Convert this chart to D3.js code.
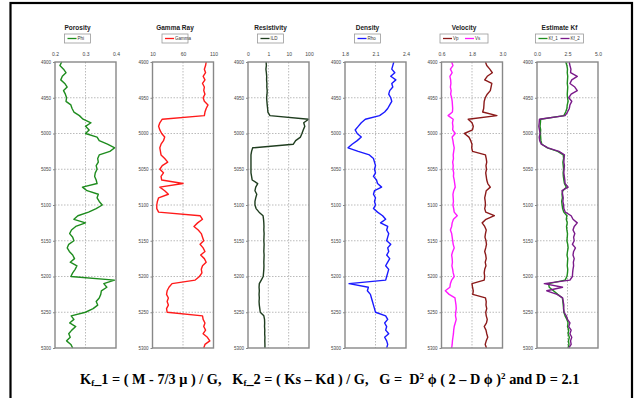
<!DOCTYPE html>
<html>
<head>
<meta charset="utf-8">
<script src="https://cdn.jsdelivr.net/npm/d3@7/dist/d3.min.js"></script>
<style>
  body { margin: 0; background: #fff; }
  svg { display: block; font-family: "Liberation Sans", Arial, sans-serif; }
</style>
</head>
<body>
<svg width="636" height="398"></svg>
<script>
// depth samples (ft), every 5 ft
const depth = [
  4900, 4905, 4910, 4915, 4920, 4925, 4930, 4935, 4940, 4945,
  4950, 4955, 4960, 4965, 4970, 4975, 4980, 4985, 4990, 4995,
  5000, 5005, 5010, 5015, 5020, 5025, 5030, 5035, 5040, 5045,
  5050, 5055, 5060, 5065, 5070, 5075, 5080, 5085, 5090, 5095,
  5100, 5105, 5110, 5115, 5120, 5125, 5130, 5135, 5140, 5145,
  5150, 5155, 5160, 5165, 5170, 5175, 5180, 5185, 5190, 5195,
  5200, 5205, 5210, 5215, 5220, 5225, 5230, 5235, 5240, 5245,
  5250, 5255, 5260, 5265, 5270, 5275, 5280, 5285, 5290, 5295,
  5300
];
const depthTicks = [4900, 4950, 5000, 5050, 5100, 5150, 5200, 5250, 5300];

const porosity = [
  0.222, 0.216, 0.228, 0.236, 0.224, 0.219, 0.232, 0.240, 0.228, 0.234,
  0.238, 0.236, 0.252, 0.256, 0.262, 0.280, 0.292, 0.318, 0.300, 0.312,
  0.300, 0.338, 0.345, 0.372, 0.396, 0.380, 0.345, 0.340, 0.342, 0.335,
  0.338, 0.332, 0.330, 0.335, 0.338, 0.290, 0.305, 0.342, 0.338, 0.345,
  0.355, 0.335, 0.310, 0.275, 0.262, 0.300, 0.268, 0.254, 0.248, 0.258,
  0.262, 0.245, 0.240, 0.247, 0.258, 0.264, 0.250, 0.272, 0.266, 0.258,
  0.252, 0.395, 0.360, 0.370, 0.352, 0.350, 0.345, 0.335, 0.340, 0.325,
  0.300, 0.253, 0.262, 0.248, 0.268, 0.255, 0.245, 0.250, 0.238, 0.252,
  0.258
];
const gamma = [
  98, 97, 95, 97, 93, 96, 92, 95, 94, 96,
  93, 95, 101, 98, 96, 95, 26, 22, 20, 22,
  25, 30, 28, 24, 22, 23, 24, 30, 35, 26,
  22, 28, 24, 25, 60, 22, 30, 36, 20, 18,
  17, 17, 20, 88, 92, 84, 78, 85, 90, 92,
  94, 88, 93, 96, 89, 95, 98, 92, 90, 91,
  87, 80, 42, 37, 34, 33, 36, 34, 36, 33,
  34, 92, 93, 96, 94, 97, 93, 100, 104, 96,
  94
];
const resistivity = [
  0.78, 0.80, 0.76, 0.80, 0.83, 0.82, 0.85, 0.84, 0.88, 0.86,
  0.82, 0.85, 0.88, 0.92, 0.95, 1.2, 95, 55, 62, 52,
  45, 38, 22, 17, 0.17, 0.15, 0.14, 0.14, 0.14, 0.14,
  0.14, 0.14, 0.15, 0.16, 0.30, 0.24, 0.22, 0.27, 0.24, 0.22,
  0.22, 0.25, 0.35, 0.55, 0.58, 0.60, 0.61, 0.60, 0.62, 0.61,
  0.60, 0.62, 0.61, 0.60, 0.62, 0.61, 0.60, 0.61, 0.60, 0.58,
  0.56, 0.45, 0.36, 0.35, 0.36, 0.35, 0.36, 0.35, 0.36, 0.38,
  0.40, 0.60, 0.65, 0.66, 0.65, 0.67, 0.66, 0.68, 0.67, 0.68,
  0.68
];
const density = [
  2.28, 2.27, 2.26, 2.29, 2.25, 2.30, 2.26, 2.27, 2.24, 2.23,
  2.25, 2.26, 2.24, 2.22, 2.19, 2.14, 2.00, 1.96, 1.93, 1.90,
  1.92, 1.96, 1.92, 1.87, 1.83, 1.93, 2.04, 2.08, 2.09, 2.10,
  2.09, 2.10, 2.08, 2.11, 2.12, 2.16, 2.09, 2.08, 2.10, 2.09,
  2.10, 2.08, 2.12, 2.17, 2.20, 2.15, 2.22, 2.21, 2.23, 2.22,
  2.21, 2.25, 2.22, 2.23, 2.21, 2.24, 2.22, 2.20, 2.23, 2.22,
  2.21, 2.20, 1.84, 2.03, 2.02, 2.05, 2.06, 2.07, 2.08, 2.09,
  2.10, 2.20, 2.22, 2.19, 2.21, 2.20, 2.23, 2.19, 2.21, 2.22,
  2.21
];
const vp = [
  2.33, 2.38, 2.50, 2.60, 2.40, 2.30, 2.58, 2.55, 2.52, 2.40,
  2.32, 2.28, 2.27, 2.26, 2.22, 2.78, 1.65, 1.80, 1.85, 1.82,
  1.50, 1.68, 1.75, 1.80, 1.79, 1.82, 2.33, 2.36, 2.38, 2.35,
  2.37, 2.34, 2.36, 2.38, 2.42, 2.52, 2.36, 2.33, 2.30, 2.32,
  2.33, 2.30, 2.34, 2.68, 2.35, 2.20, 2.30, 2.36, 2.33, 2.31,
  2.35, 2.37, 2.34, 2.30, 2.34, 2.36, 2.32, 2.35, 2.30, 2.28,
  2.30, 2.28, 1.80, 1.82, 1.85, 1.83, 2.33, 2.36, 2.35, 2.38,
  2.34, 2.36, 2.40, 2.37, 2.28, 2.35, 2.38, 2.42, 2.36, 2.32,
  2.37
];
const vs = [
  1.00, 1.05, 0.95, 1.02, 0.93, 0.96, 0.97, 0.95, 0.98, 0.96,
  1.00, 1.02, 1.03, 1.04, 1.03, 0.86, 1.06, 1.03, 1.05, 1.04,
  1.14, 1.02, 1.05, 1.07, 1.10, 1.08, 1.06, 1.07, 1.04, 1.06,
  1.05, 1.08, 1.07, 1.10, 1.12, 1.14, 1.08, 1.05, 1.06, 1.07,
  1.05, 1.08, 1.10, 1.22, 1.07, 1.02, 1.00, 0.95, 1.00, 1.02,
  1.04, 1.06, 1.10, 1.04, 1.00, 1.02, 1.03, 1.01, 1.04, 1.06,
  1.10, 1.00, 0.95, 0.93, 0.75, 0.90, 1.13, 1.15, 1.17, 1.18,
  1.16, 1.15, 1.18, 1.14, 1.10, 1.08, 1.07, 1.05, 1.03, 1.02,
  1.00
];
const kf1 = [
  2.36, 2.45, 2.50, 2.48, 2.52, 2.50, 2.48, 2.52, 2.50, 2.48,
  2.50, 2.55, 2.48, 2.45, 2.35, 2.20, 0.30, 0.28, 0.25, 0.30,
  0.28, 0.30, 0.32, 0.40, 0.85, 1.70, 2.15, 2.18, 2.12, 2.15,
  2.18, 2.14, 2.16, 2.20, 2.25, 2.40, 2.12, 2.05, 2.08, 2.02,
  2.06, 2.10, 2.20, 2.45, 2.40, 2.48, 2.42, 2.45, 2.50, 2.48,
  2.45, 2.52, 2.55, 2.50, 2.46, 2.52, 2.50, 2.48, 2.52, 2.50,
  2.45, 2.30, 0.95, 1.00, 1.35, 1.70, 2.08, 2.12, 2.15, 2.18,
  2.20, 2.30, 2.45, 2.55, 2.50, 2.60, 2.55, 2.65, 2.58, 2.62,
  2.55
];
const kf2 = [
  2.64, 2.70, 2.78, 2.75, 3.30, 2.85, 2.70, 3.10, 3.30, 2.80,
  2.60, 2.85, 2.70, 2.65, 2.50, 2.30, 0.20, 0.18, 0.15, 0.20,
  0.25, 0.18, 0.22, 0.35, 0.90, 1.80, 2.25, 2.22, 2.20, 2.25,
  2.22, 2.20, 2.24, 2.28, 2.30, 2.55, 2.05, 2.10, 2.15, 2.12,
  2.18, 2.20, 2.32, 2.80, 2.95, 3.30, 3.05, 2.95, 3.10, 3.00,
  3.05, 2.90, 3.15, 3.00, 2.95, 3.05, 2.98, 3.00, 2.95, 2.92,
  2.90, 2.70, 0.60, 2.10, 0.80, 1.65, 2.10, 2.15, 2.20, 2.18,
  2.22, 2.40, 2.50, 2.70, 2.60, 2.80, 2.70, 2.85, 2.75, 2.80,
  2.60
];

const titles = ['Porosity', 'Gamma Ray', 'Resistivity', 'Density', 'Velocity', 'Estimate Kf'];
const xTicks = [[0.2, 0.3, 0.4], [10, 60, 110], [0.1, 1, 10, 100], [1.8, 2.1, 2.4], [0.6, 1.8, 3.0], [0, 2.5, 5]];
const xTickLabels = [['0.2', '0.3', '0.4'], ['10', '60', '110'], ['0', '1', '10', '100'],
  ['1.8', '2.1', '2.4'], ['0.6', '1.8', '3.0'], ['0.0', '2.5', '5.0']];

const panels = [
  { series: [{ name: 'Phi', values: porosity, color: '#1e8c1e' }] },
  { series: [{ name: 'Gamma', values: gamma, color: '#ff1a1a' }] },
  { series: [{ name: 'ILD', values: resistivity, color: '#1f3d1f' }], log: true },
  { series: [{ name: 'Rho', values: density, color: '#1a1aff' }] },
  { series: [{ name: 'Vp', values: vp, color: '#8b1a1a' }, { name: 'Vs', values: vs, color: '#ff1aff' }] },
  { series: [{ name: 'Kf_1', values: kf1, color: '#1e8c1e' }, { name: 'Kf_2', values: kf2, color: '#7a1a8a' }] }
];

const svg = d3.select('svg');
const plotLefts = [55, 152.5, 248, 345, 441.5, 537];
const plotW = 61;
const plotTop = 62, plotBottom = 348;

// outer frame
svg.append('rect')
  .attr('x', 10.5).attr('y', 3).attr('width', 621.5).attr('height', 400)
  .attr('fill', 'none').attr('stroke', '#000').attr('stroke-width', 2.2);

const yScale = d3.scaleLinear().domain([4900, 5300]).range([plotTop, plotBottom]);

panels.forEach((p, i) => {
  const x0 = plotLefts[i];
  const ticks = xTicks[i];
  const xScale = (p.log ? d3.scaleLog() : d3.scaleLinear())
    .domain([ticks[0], ticks[ticks.length - 1]])
    .range([x0, x0 + plotW]);
  const g = svg.append('g');
  const cx = x0 + plotW / 2 - 8;

  // title
  g.append('text')
    .attr('x', cx).attr('y', 30)
    .attr('text-anchor', 'middle')
    .attr('font-size', '6.5px').attr('font-weight', 'bold')
    .attr('fill', '#222')
    .text(titles[i]);

  // legend
  const itemW = 22;
  const legW = p.series.length * itemW + 4;
  const lg = g.append('g').attr('transform', `translate(${cx - legW / 2}, 34)`);
  lg.append('rect')
    .attr('width', legW).attr('height', 9)
    .attr('fill', '#fff').attr('stroke', '#999').attr('stroke-width', 0.8);
  p.series.forEach((s, k) => {
    const lx = 3 + k * itemW;
    lg.append('line')
      .attr('x1', lx).attr('x2', lx + 9).attr('y1', 4.5).attr('y2', 4.5)
      .attr('stroke', s.color).attr('stroke-width', 1.3);
    lg.append('text')
      .attr('x', lx + 10).attr('y', 6.3)
      .attr('font-size', '4.5px').attr('fill', '#333')
      .text(s.name);
  });

  // grid
  g.append('g')
    .selectAll('line')
    .data(depthTicks.slice(1, -1))
    .enter()
    .append('line')
    .attr('x1', x0).attr('x2', x0 + plotW)
    .attr('y1', d => yScale(d)).attr('y2', d => yScale(d))
    .attr('stroke', '#aaa').attr('stroke-width', 0.8).attr('stroke-dasharray', '1.5,1.5');
  g.append('g')
    .selectAll('line')
    .data(ticks.slice(1, -1))
    .enter()
    .append('line')
    .attr('x1', d => xScale(d)).attr('x2', d => xScale(d))
    .attr('y1', plotTop).attr('y2', plotBottom)
    .attr('stroke', '#aaa').attr('stroke-width', 0.8).attr('stroke-dasharray', '1.5,1.5');

  // axes
  const xAxis = g.append('g')
    .attr('transform', `translate(0, ${plotTop})`)
    .call(d3.axisTop(xScale).tickValues(ticks).tickSize(0).tickPadding(6)
      .tickFormat((d, j) => xTickLabels[i][j]));
  xAxis.select('.domain').remove();
  xAxis.selectAll('text').attr('font-size', '5px').attr('fill', '#444');

  const yAxis = g.append('g')
    .attr('transform', `translate(${x0}, 0)`)
    .call(d3.axisLeft(yScale).tickValues(depthTicks).tickSize(2).tickPadding(2).tickFormat(d3.format('d')));
  yAxis.select('.domain').remove();
  yAxis.selectAll('line').attr('stroke', '#888');
  yAxis.selectAll('text').attr('font-size', '4.5px').attr('fill', '#444');

  // curves
  p.series.forEach(s => {
    const line = d3.line()
      .x((d, j) => xScale(s.values[j]))
      .y(d => yScale(d));
    g.append('path')
      .datum(depth)
      .attr('d', line)
      .attr('fill', 'none')
      .attr('stroke', s.color)
      .attr('stroke-width', 1.4)
      .attr('stroke-linejoin', 'round');
  });

  // plot frame
  g.append('rect')
    .attr('x', x0).attr('y', plotTop).attr('width', plotW).attr('height', plotBottom - plotTop)
    .attr('fill', 'none').attr('stroke', '#888').attr('stroke-width', 1.4);
});

// formula
const f = svg.append('text')
  .attr('x', 80).attr('y', 384)
  .attr('font-family', '"Liberation Serif", "Times New Roman", serif')
  .attr('font-size', '14.3px').attr('font-weight', 'bold')
  .attr('fill', '#000')
  .style('white-space', 'pre');
const parts = [
  ['K', 0], ['f', 1], ['_1 = ( M - 7/3 μ ) / G,   K', 0], ['f', 1], ['_2 = ( Ks – Kd ) / G,   G =  D', 0],
  ['2', 2], [' ϕ ( 2 – D ϕ )', 0], ['2', 2], [' and D = 2.1', 0]
];
parts.forEach(([t, k]) => {
  const ts = f.append('tspan').text(t);
  if (k === 1) ts.attr('font-size', '9px').attr('baseline-shift', '-2');
  if (k === 2) ts.attr('font-size', '9px').attr('baseline-shift', '5');
});
</script>
</body>
</html>
